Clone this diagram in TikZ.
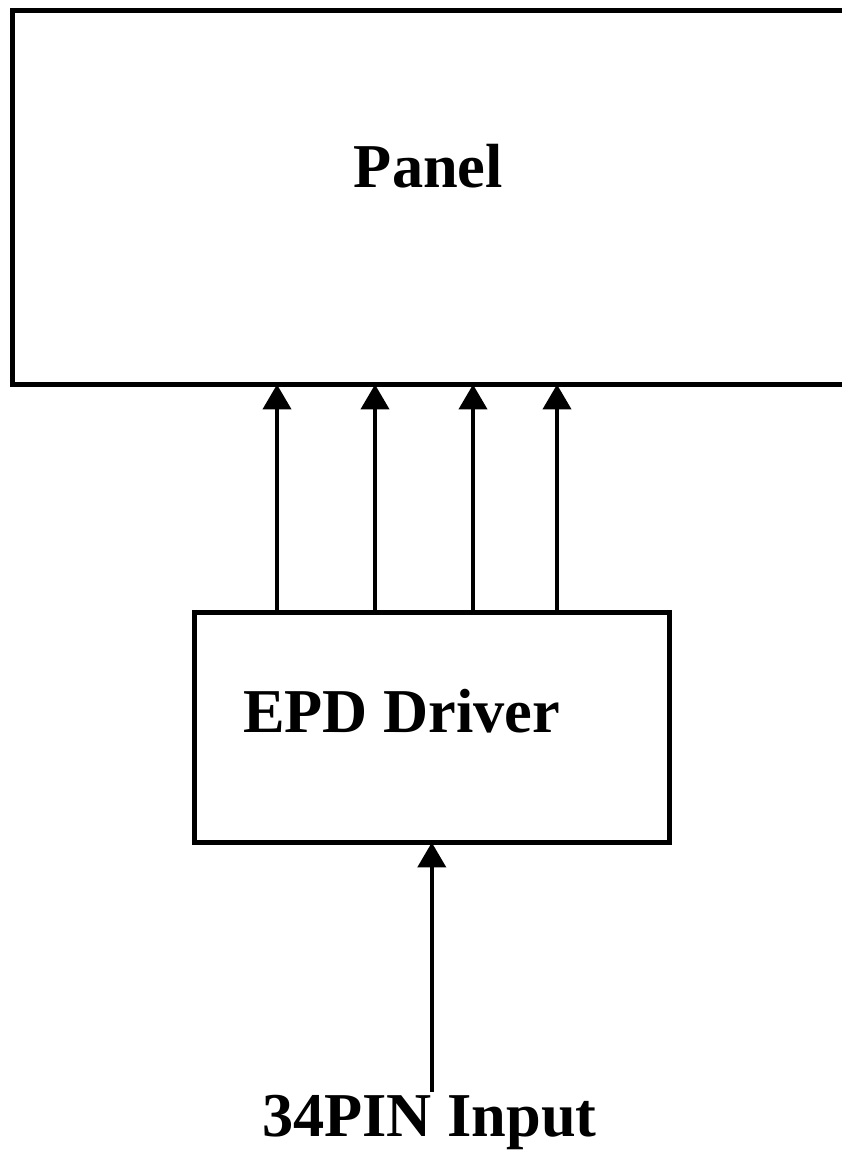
\documentclass[tikz,border=0pt]{standalone}
\usepackage{fontspec}
\setmainfont{Liberation Serif}
\usetikzlibrary{arrows.meta}

\tikzset{
  caixa/.style={draw, line width=2.6pt, rectangle, inner sep=0pt, anchor=north west},
  rotul/.style={font=\bfseries\fontsize{35.5}{40}\selectfont, inner sep=2pt},
  senyal/.style={line width=2.4pt, -{Triangle[width=0.56cm, length=0.5cm]}, shorten >=-1.2pt}
}

\begin{document}
\begin{tikzpicture}
    % Marges
    \useasboundingbox (0,0) rectangle (16.84,23.16);
    \clip (0,0) rectangle (16.84,23.16);

    % Panell (surt pel costat dret)
    \node[caixa, minimum width=17cm, minimum height=7.48cm] (panel) at (0.2,23.0) {};
    \node[rotul, anchor=base] (paneltext) at (8.57,19.4) {Panel};

    % Controlador
    \node[caixa, minimum width=9.5cm, minimum height=4.6cm] (driver) at (3.84,10.96) {};
    \node[rotul, anchor=base] (drivertext) at (8.03,8.5) {EPD Driver};

    % Sortides cap al panell
    \foreach \i/\dx in {1/1.7, 2/3.66, 3/5.62, 4/7.3} {
        \coordinate (out\i) at ([xshift=\dx cm]driver.north west);
        \draw[senyal] (out\i) -- (out\i |- panel.south);
    }

    % Entrada
    \node[rotul, anchor=base] (input) at (8.59,0.42) {34PIN Input};
    \draw[senyal] (input.north -| driver.south) -- (driver.south);
\end{tikzpicture}
\end{document}
